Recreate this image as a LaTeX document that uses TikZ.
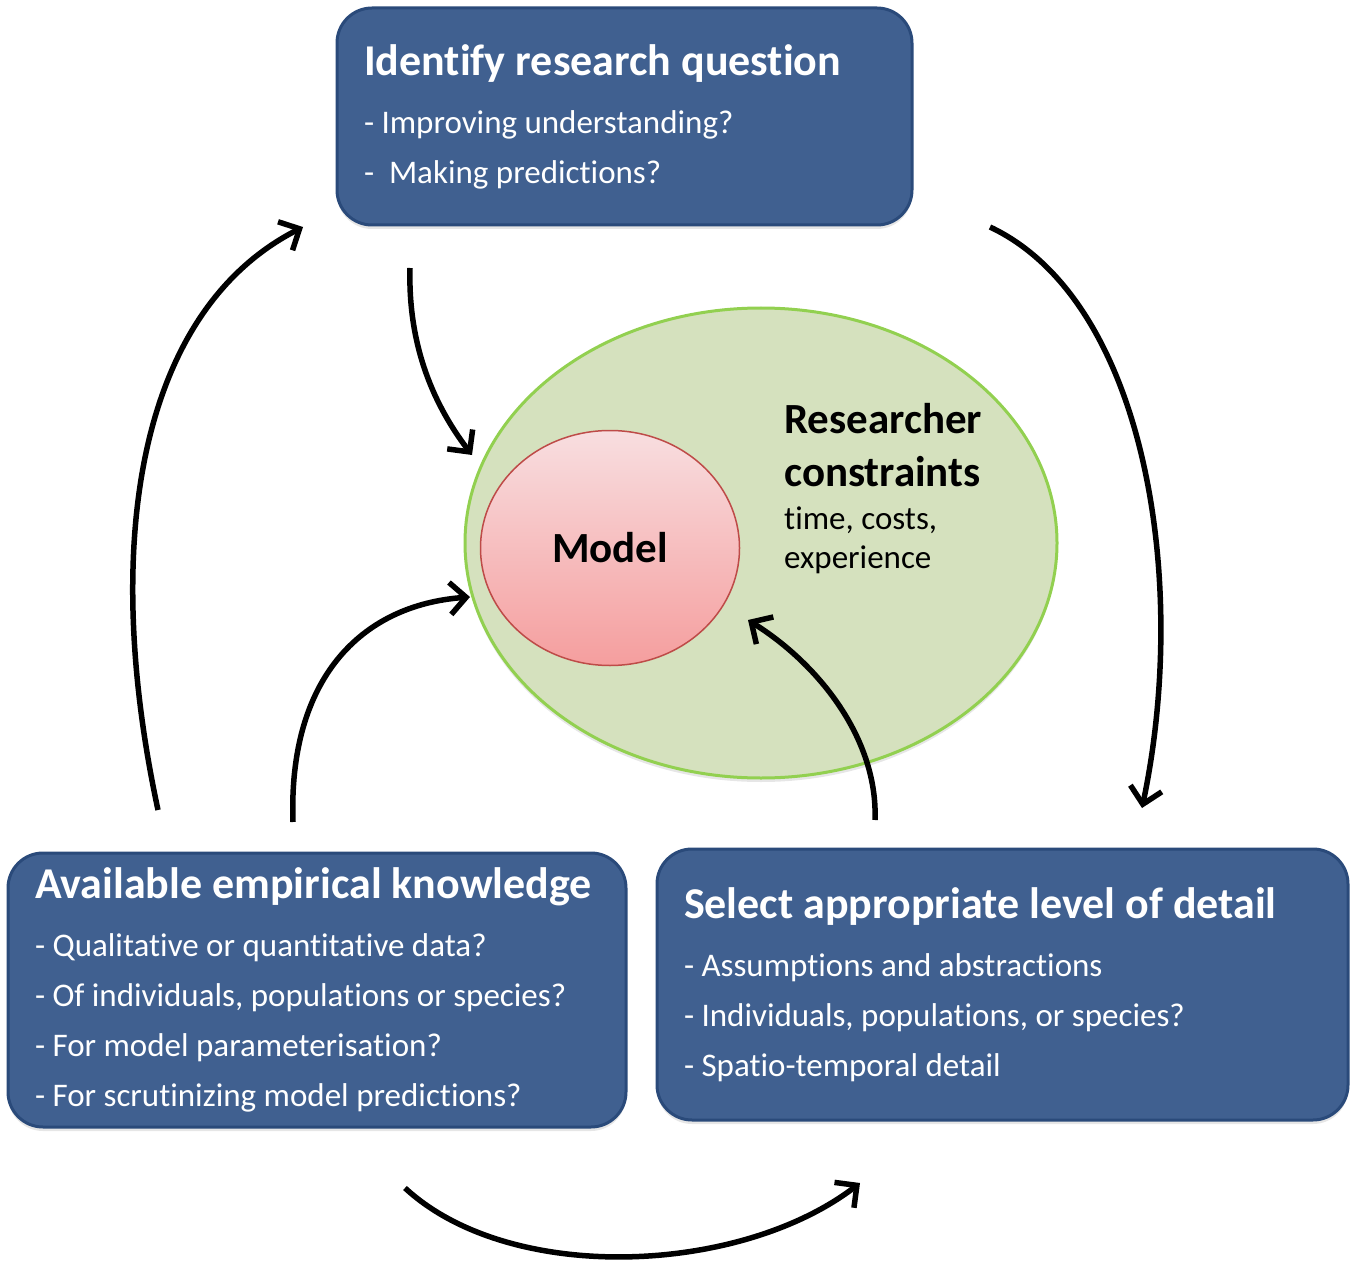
\documentclass[tikz,border=0pt]{standalone}
\usepackage{fontspec}
\setmainfont{Carlito}[Ligatures=CommonOff]
\usepackage{tikz}
\usetikzlibrary{shapes.geometric,arrows.meta,shadows,positioning}

\definecolor{boxblue}{RGB}{64,96,144}
\definecolor{boxedge}{RGB}{42,74,122}
\definecolor{ovalfill}{RGB}{213,225,190}
\definecolor{ovaledge}{RGB}{146,208,80}
\definecolor{modeltop}{RGB}{248,222,224}
\definecolor{modelbottom}{RGB}{245,158,158}
\definecolor{modeledge}{RGB}{190,75,72}

% bold heading line inside a box
\newcommand{\boxtitle}[1]{{\bfseries\fontsize{44}{50}\selectfont #1}\\[8pt]}

\tikzset{
  stepbox/.style={draw=boxedge, line width=3pt, fill=boxblue, rounded corners=35pt,
    text=white, align=flush left, inner xsep=27pt, inner ysep=0pt,
    font=\fontsize{33}{50}\selectfont,
    drop shadow={shadow xshift=0pt, shadow yshift=-4pt, opacity=0.2}},
  cyclearrow/.style={line width=5.5pt, -{Straight Barb[length=16pt,width=32pt]}}
}

\begin{document}
\begin{tikzpicture}[x=1pt,y=-1pt]
    \useasboundingbox (0,0) rectangle (1355,1265);

    % Constraints oval and model
    \node[ellipse, minimum width=592pt, minimum height=470pt, fill=ovalfill, draw=ovaledge, line width=3pt,
          drop shadow={shadow xshift=0pt, shadow yshift=-4pt, opacity=0.2}] (constraints) at (761,543) {};
    \node[ellipse, minimum width=259pt, minimum height=235pt, top color=modeltop, bottom color=modelbottom,
          draw=modeledge, line width=1.5pt, font=\bfseries\fontsize{43}{50}\selectfont] (model) at (610,548) {Model};
    \node[anchor=west, align=flush left, inner sep=0pt, font=\bfseries\fontsize{43}{53}\selectfont] (rchead) at (784,445) {Researcher\\constraints};
    \node[below=20pt of rchead.south west, anchor=north west, align=flush left, inner sep=0pt,
          font=\fontsize{33}{39}\selectfont] (rcnote) {time, costs,\\experience};

    % Boxes
    \node[stepbox, text width=521pt, minimum height=217pt] (question) at (624.5,116.5) {%
        \boxtitle{Identify research question}
        - Improving understanding?\\
        -\ \ Making predictions?};
    \node[stepbox, text width=564pt, minimum height=274pt] (knowledge) at (317,990) {%
        \boxtitle{Available empirical knowledge}
        - Qualitative or quantitative data?\\
        - Of individuals, populations or species?\\
        - For model parameterisation?\\
        - For scrutinizing model predictions?};
    \node[stepbox, text width=637pt, minimum height=271pt] (detail) at (1002.5,984.5) {%
        \boxtitle{Select appropriate level of detail}
        - Assumptions and abstractions\\
        - Individuals, populations, or species?\\
        - Spatio-temporal detail};

    % Arrow ends
    \coordinate (kup) at (158,810);
    \coordinate (qin) at (303,227);
    \coordinate (qout) at (990,227);
    \coordinate (din) at (1142,808);
    \coordinate (qdown) at (410,268);
    \coordinate (cin) at (472,455);
    \coordinate (kin) at (293,822);
    \coordinate (cleft) at (470,597);
    \coordinate (dup) at (875,820);
    \coordinate (mright) at (748,620);
    \coordinate (kout) at (405,1188);
    \coordinate (dback) at (860,1183);

    % Arrows
    \draw[cyclearrow] (kup) .. controls (100,540) and (140,310) .. (qin);
    \draw[cyclearrow] (qout) .. controls (1145,300) and (1190,580) .. (din);
    \draw[cyclearrow] (qdown) .. controls (408,340) and (430,400) .. (cin);
    \draw[cyclearrow] (kin) .. controls (288,680) and (360,605) .. (cleft);
    \draw[cyclearrow] (dup) .. controls (878,740) and (820,665) .. (mright);
    \draw[cyclearrow] (kout) .. controls (510,1285) and (740,1275) .. (dback);
\end{tikzpicture}
\end{document}
